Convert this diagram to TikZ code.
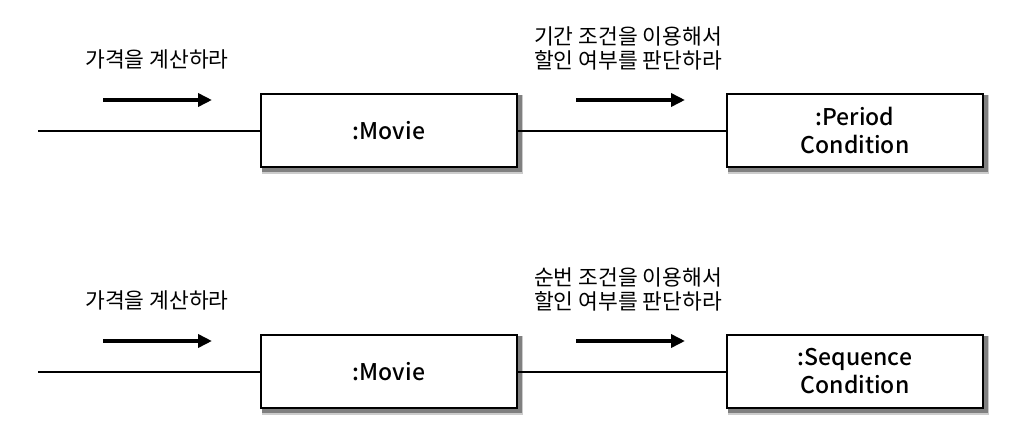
\documentclass[tikz,border=0pt]{standalone}
\usepackage{fontspec}
\setmainfont{Noto Sans CJK KR}
\newfontfamily\kr{Noto Sans CJK KR}
\newfontfamily\krm{Noto Sans CJK KR Medium}
\usetikzlibrary{arrows.meta,backgrounds}
\begin{document}
\begin{tikzpicture}[x=1pt,y=-1pt,
  obj/.style={draw=black,line width=2pt,fill=white,minimum width=256pt,minimum height=73pt,inner sep=0pt,
    align=center,font=\krm\fontsize{23}{30}\selectfont},
  shade/.style={fill=black!50},
  msg/.style={font=\kr\fontsize{21.5}{24}\selectfont,align=center,inner sep=0pt},
  link/.style={line width=2pt},
  dirarrow/.style={line width=4pt,-{Triangle[length=14pt,width=13pt]}}]
\useasboundingbox (0,0) rectangle (1016,428);
% top row
\node[obj] (m1) at (389,130.5) {:Movie};
\node[obj] (c1) at (855,130.5) {:Period\\[-2pt]Condition};
\coordinate (s1) at (38,130.5);
\draw[link] (s1) -- (m1.west);
\draw[link] (m1.east) -- (c1.west);
\coordinate (a1s) at (103,100);
\coordinate (a1e) at (212,100);
\draw[dirarrow] (a1s) -- (a1e);
\coordinate (a2s) at (576,100);
\coordinate (a2e) at (685,100);
\draw[dirarrow] (a2s) -- (a2e);
\node[msg] (t1) at (157,59) {가격을 계산하라};
\node[msg] (t2) at (628,48) {기간 조건을 이용해서\\할인 여부를 판단하라};
% bottom row
\node[obj] (m2) at (389,371.5) {:Movie};
\node[obj] (c2) at (855,371.5) {:Sequence\\[-2pt]Condition};
\coordinate (s2) at (38,371.5);
\draw[link] (s2) -- (m2.west);
\draw[link] (m2.east) -- (c2.west);
\coordinate (a3s) at (103,341);
\coordinate (a3e) at (212,341);
\draw[dirarrow] (a3s) -- (a3e);
\coordinate (a4s) at (576,341);
\coordinate (a4e) at (685,341);
\draw[dirarrow] (a4s) -- (a4e);
\node[msg] (t3) at (157,300) {가격을 계산하라};
\node[msg] (t4) at (628,289) {순번 조건을 이용해서\\할인 여부를 판단하라};
\begin{pgfonlayer}{background}
\foreach \nm in {m1,c1,m2,c2}{
  \fill[black!20] ([shift={(2,2)}]\nm.north west) rectangle ([shift={(5,6)}]\nm.south east);
  \fill[shade] ([shift={(2,2)}]\nm.north west) rectangle ([shift={(3.5,4)}]\nm.south east);
}
\end{pgfonlayer}
\end{tikzpicture}
\end{document}
